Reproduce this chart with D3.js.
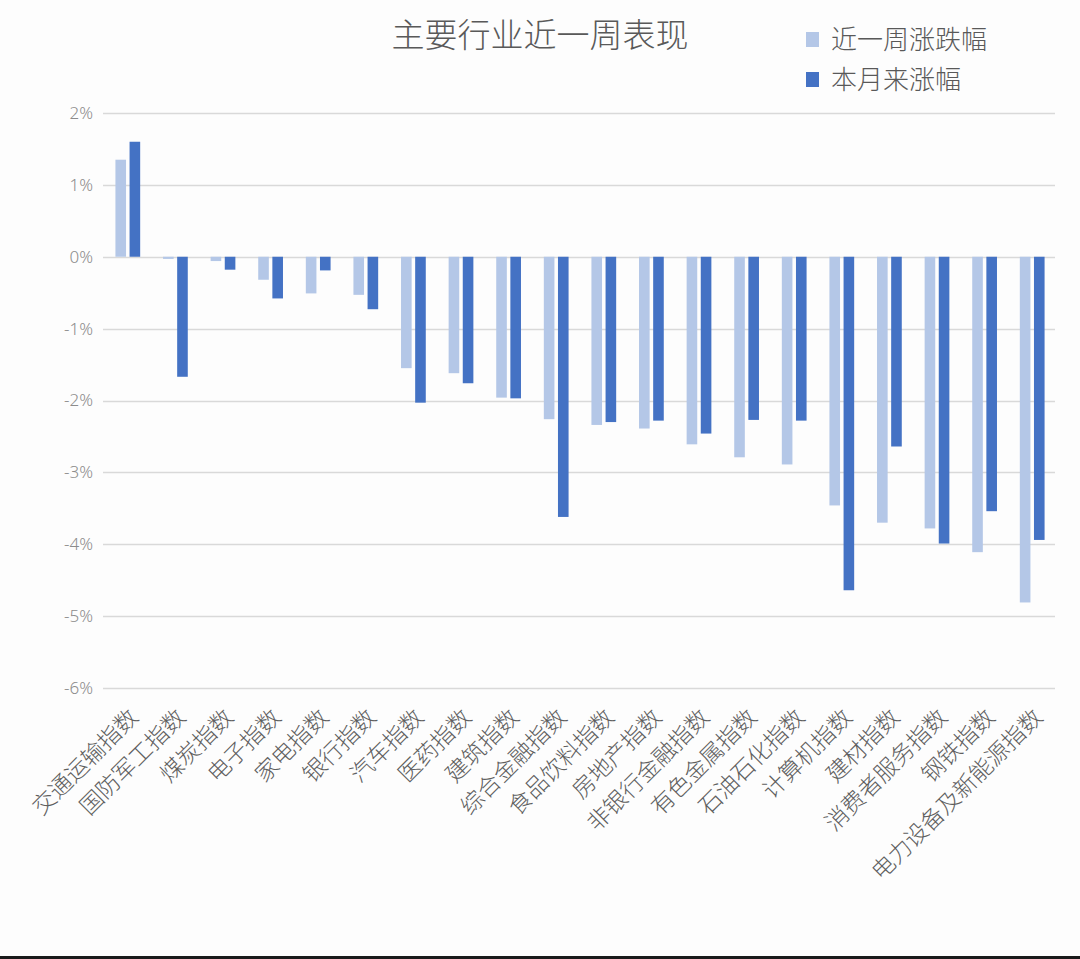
<!DOCTYPE html>
<html><head><meta charset="utf-8">
<script src="https://cdn.jsdelivr.net/npm/d3@7"></script>
<style>
html,body{margin:0;padding:0;background:#fdfdfd;}
svg{display:block;font-family:"Noto Sans CJK SC","Noto Sans",sans-serif;}
</style></head>
<body><svg id="c" width="1080" height="959"></svg>
<script>
const categories = ["交通运输指数","国防军工指数","煤炭指数","电子指数","家电指数","银行指数","汽车指数","医药指数","建筑指数","综合金融指数","食品饮料指数","房地产指数","非银行金融指数","有色金属指数","石油石化指数","计算机指数","建材指数","消费者服务指数","钢铁指数","电力设备及新能源指数"];
const weekChange = [1.35,-0.03,-0.06,-0.32,-0.51,-0.53,-1.55,-1.62,-1.96,-2.26,-2.34,-2.39,-2.61,-2.79,-2.89,-3.46,-3.70,-3.78,-4.11,-4.81];
const monthChange = [1.60,-1.67,-0.18,-0.58,-0.19,-0.73,-2.03,-1.76,-1.97,-3.62,-2.30,-2.28,-2.46,-2.27,-2.28,-4.64,-2.64,-3.99,-3.54,-3.94];
const seriesNames = ["近一周涨跌幅","本月来涨幅"];
const yTicks = [2,1,0,-1,-2,-3,-4,-5,-6];
const title = "主要行业近一周表现";

const svg = d3.select("#c");
const colors = ["#B4C7E7","#4472C4"];
const mLeft = 103, mRight = 1055, mTop = 113, mBottom = 688;

const x = d3.scaleBand().domain(categories).range([mLeft+1,mRight+1]).paddingInner(0.48).paddingOuter(0.24);
const x1 = d3.scaleBand().domain([0,1]).range([0,x.bandwidth()]).paddingInner(0.25);
const y = d3.scaleLinear().domain([-6,2]).range([mBottom,mTop]);

// gridlines
svg.append("g").selectAll("line").data(yTicks).join("line")
  .attr("x1",mLeft).attr("x2",mRight)
  .attr("y1",d=>Math.round(y(d))+0.5).attr("y2",d=>Math.round(y(d))+0.5)
  .attr("stroke","#d9d9d9").attr("stroke-width",1.5);

// y axis labels
const yAxis = d3.axisLeft(y).tickValues(yTicks).tickFormat(d=>d+"%").tickSize(0).tickPadding(10);
const ya = svg.append("g").attr("transform",`translate(${mLeft},0)`).call(yAxis);
ya.select(".domain").remove();
ya.selectAll("text").attr("fill","#8c8c8c").style("font-size","17px").style("font-weight","300").style("font-family","'Noto Sans','Noto Sans CJK SC',sans-serif");

// bars
const data = categories.map((c,i)=>({c, v:[weekChange[i],monthChange[i]]}));
const g = svg.append("g").selectAll("g").data(data).join("g").attr("transform",d=>`translate(${x(d.c)},0)`);
g.selectAll("rect").data(d=>d.v.map((v,k)=>({v,k}))).join("rect")
  .attr("x",d=>x1(d.k)).attr("width",x1.bandwidth())
  .attr("y",d=>y(Math.max(0,d.v))).attr("height",d=>Math.abs(y(d.v)-y(0)))
  .attr("fill",d=>colors[d.k]);

// x labels
svg.append("g").selectAll("text").data(categories).join("text")
  .attr("transform",d=>`translate(${x(d)+x.bandwidth()/2+6},${713}) rotate(-45)`)
  .attr("text-anchor","end").attr("dy","0.35em")
  .attr("fill","#5f5f5f").style("font-size","23px").style("font-weight","300")
  .text(d=>d);

// title
svg.append("text").attr("x",540).attr("y",47).attr("text-anchor","middle")
  .attr("fill","#595959").style("font-size","33px").style("font-weight","300").text(title);

// legend
const lg = svg.append("g").selectAll("g").data(seriesNames).join("g")
  .attr("transform",(d,i)=>`translate(806,${40+i*40})`);
lg.append("rect").attr("x",0).attr("y",-8).attr("width",13).attr("height",15).attr("fill",(d,i)=>colors[i]);
lg.append("text").attr("x",25).attr("y",0).attr("dy","0.35em").attr("fill","#595959").style("font-size","26px").style("font-weight","300").text(d=>d);

// bottom line
svg.append("rect").attr("x",0).attr("y",956).attr("width",1080).attr("height",3).attr("fill","#1a1a1a");
</script></body></html>
